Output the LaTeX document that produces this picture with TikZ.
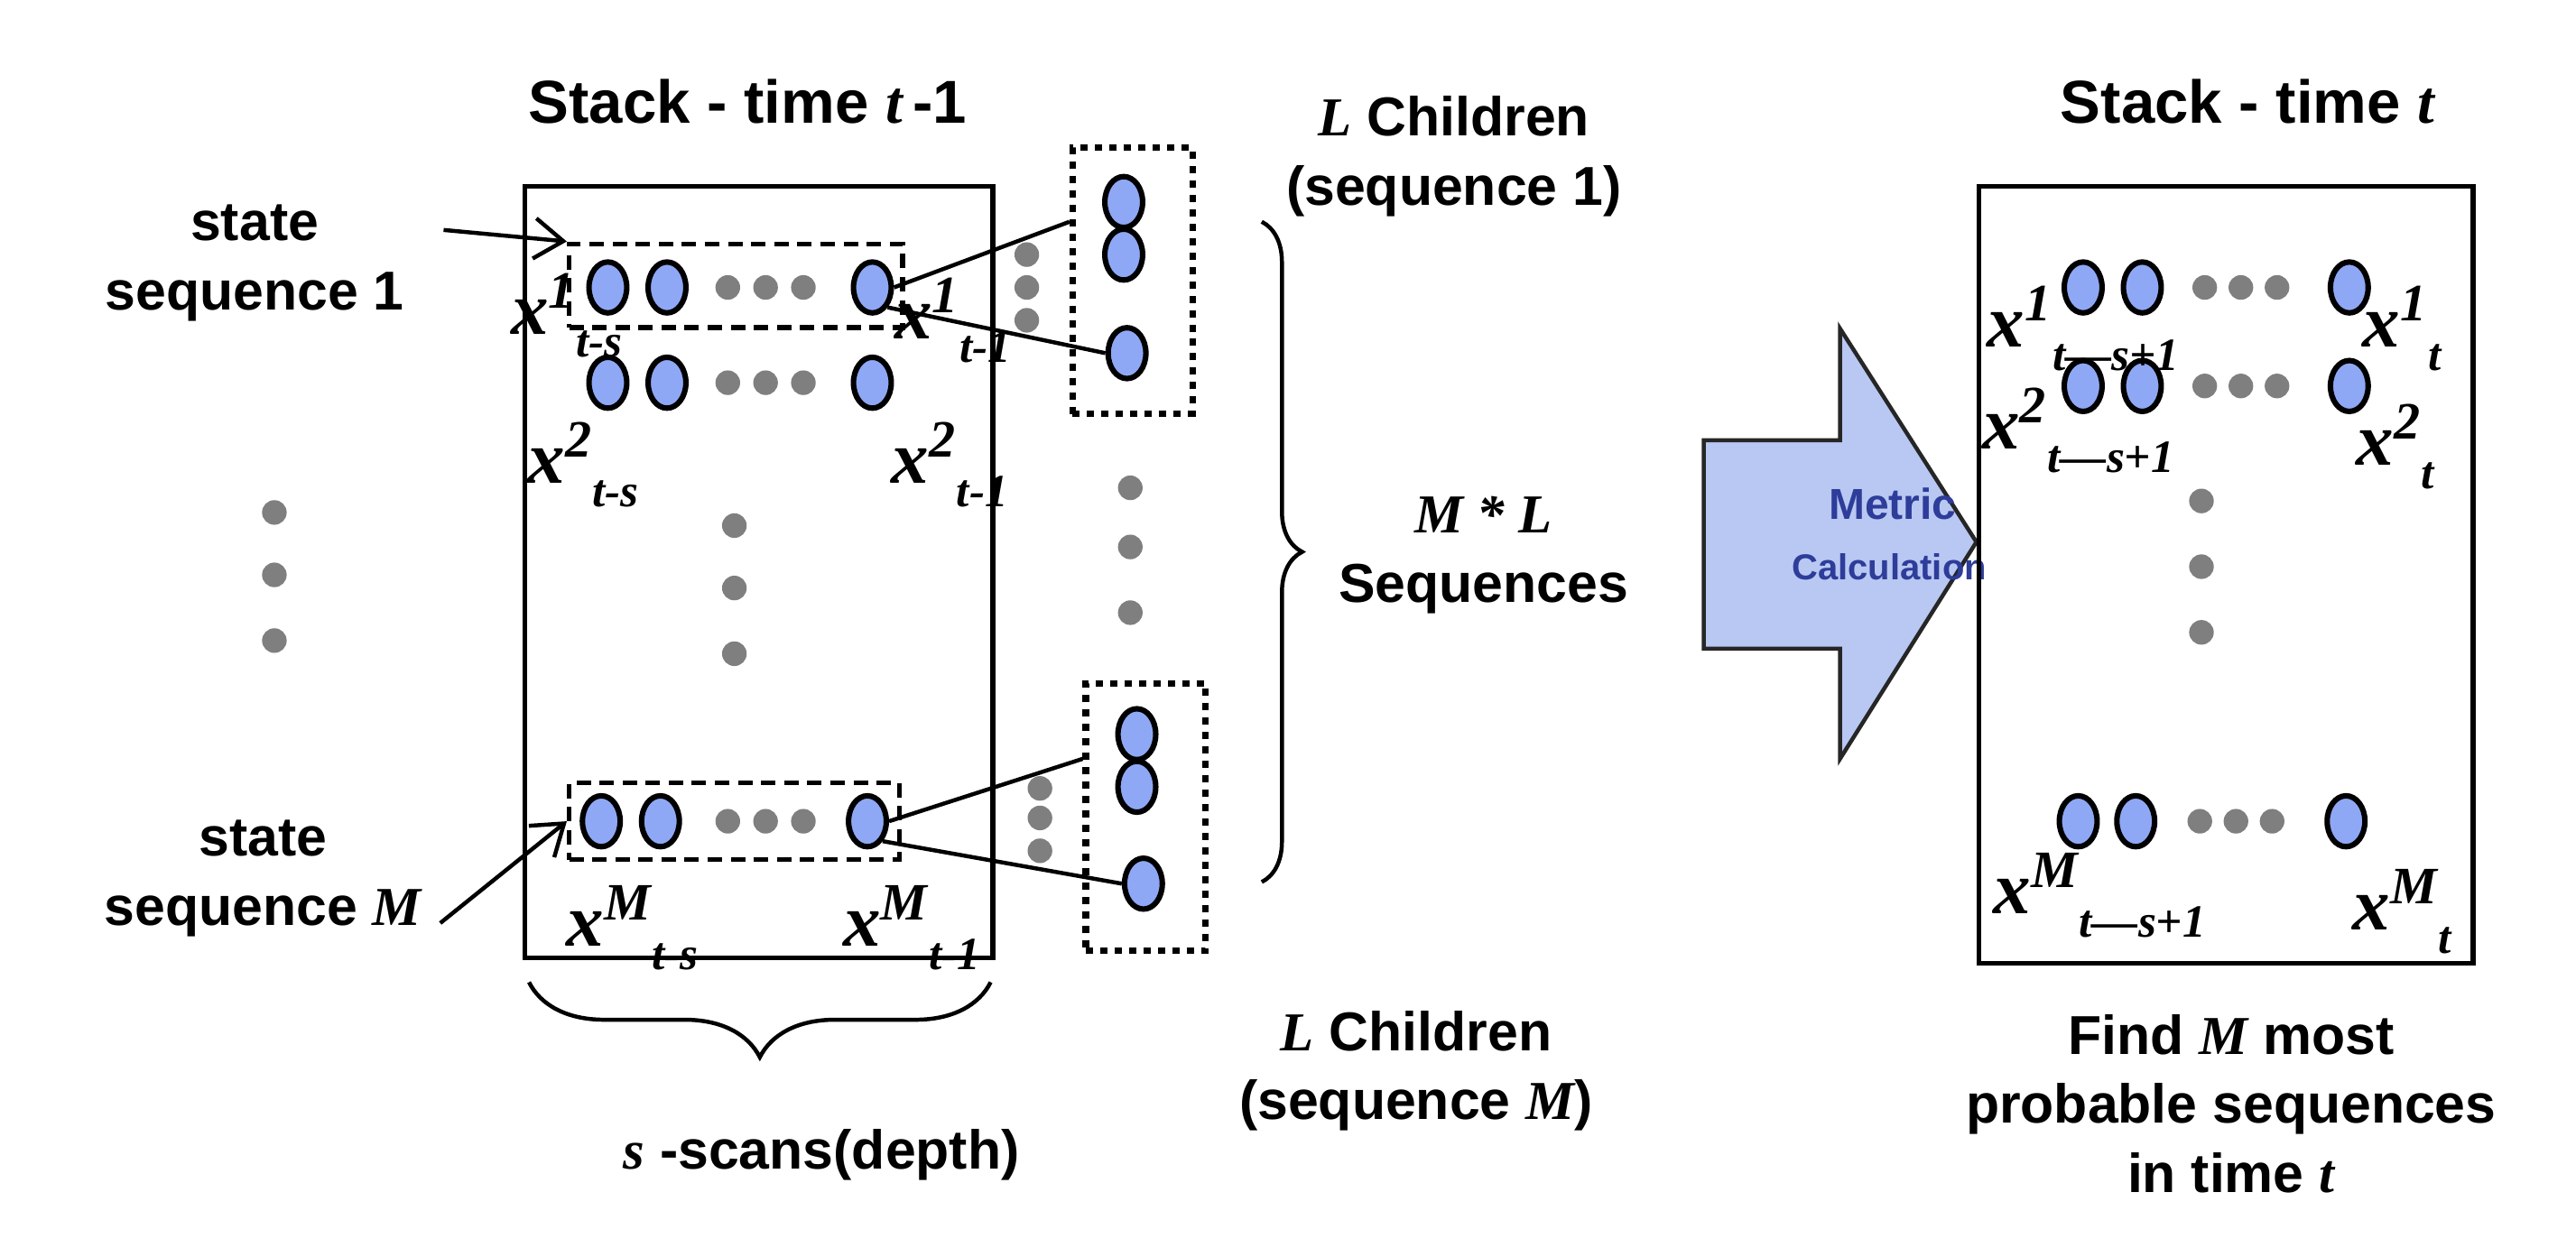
\documentclass[tikz,border=0pt]{standalone}
\usepackage{fontspec}
\setmainfont{Liberation Sans}
\newfontfamily\serifit{Liberation Serif}
\usetikzlibrary{shapes.geometric,decorations.pathreplacing,arrows.meta}
\definecolor{ov}{HTML}{8FA8F5}
\definecolor{dg}{HTML}{7F7F7F}
\definecolor{arrowfill}{HTML}{B8C8F2}
\definecolor{mblue}{HTML}{2E3C9A}
\begin{document}
\begin{tikzpicture}[x=0.02cm,y=-0.02cm,
  ov/.style={ellipse,draw,line width=1.9pt,fill=ov,inner sep=0,minimum width=0.46cm,minimum height=0.62cm},
  gd/.style={circle,fill=dg,inner sep=0,minimum size=0.3cm},
  ttl/.style={font=\fontsize{21}{25}\selectfont\bfseries},
  lbl/.style={font=\fontsize{19}{24}\selectfont\bfseries,align=center},
  xl/.style={font=\serifit\bfseries\itshape\fontsize{26}{28}\selectfont,inner sep=0},
  box/.style={draw,line width=1.6pt},
  dbox/.style={draw,line width=1.6pt,dash pattern=on 5pt off 3pt},
  obox/.style={draw,line width=2.2pt,dash pattern=on 2.5pt off 2.5pt},
  ln/.style={line width=1.4pt}]
\useasboundingbox (0,0) rectangle (1568,765);
% titles
\node[ttl] (t1) at (455,62) {Stack - time \serifit\itshape t\,\normalfont\bfseries-1};
\node[ttl] (t2) at (1368,62) {Stack - time \serifit\itshape t};
% left box
\node[box,minimum width=5.7cm,minimum height=9.4cm,anchor=north west,inner sep=0] (LB) at (318,112) {};
\node[dbox,minimum width=4.06cm,minimum height=1.02cm,anchor=north west,inner sep=0] (D1) at (345,147) {};
\node[dbox,minimum width=4.02cm,minimum height=0.94cm,anchor=north west,inner sep=0] (DM) at (345,475) {};
% rows
\foreach \r/\y/\a/\b/\c in {1/175/370/406/531, 2/233/370/406/531, M/500/366/402/528}{
  \node[ov] (a\r) at (\a,\y) {};
  \node[ov] (b\r) at (\b,\y) {};
  \node[ov] (c\r) at (\c,\y) {};
  \foreach \d/\dx in {1/443,2/466,3/489}{\node[gd] (g\r\d) at (\dx,\y) {};}
}
\node[xl] (l1a) at (345,192) {x\textsuperscript{1}\raisebox{-8pt}{\fontsize{16}{16}\selectfont t-s}};
\node[xl] (l1b) at (580,195) {x\textsuperscript{1}\raisebox{-8pt}{\fontsize{16}{16}\selectfont t-1}};
\node[xl] (l2a) at (355,283) {x\textsuperscript{2}\raisebox{-8pt}{\fontsize{16}{16}\selectfont t-s}};
\node[xl] (l2b) at (578,283) {x\textsuperscript{2}\raisebox{-8pt}{\fontsize{16}{16}\selectfont t-1}};
\node[xl] (lMa) at (385,565) {x\textsuperscript{M}\raisebox{-8pt}{\fontsize{16}{16}\selectfont t-s}};
\node[xl] (lMb) at (555,565) {x\textsuperscript{M}\raisebox{-8pt}{\fontsize{16}{16}\selectfont t-1}};
% vertical dots
\foreach \i/\y in {1/320,2/358,3/398}{\node[gd] (vm\i) at (447,\y) {};}
\foreach \i/\y in {1/312,2/350,3/390}{\node[gd] (vl\i) at (167,\y) {};}
\foreach \i/\y in {1/297,2/333,3/373}{\node[gd] (vc\i) at (688,\y) {};}
\foreach \i/\y in {1/155,2/175,3/195}{\node[gd] (s1\i) at (625,\y) {};}
\foreach \i/\y in {1/480,2/498,3/518}{\node[gd] (sM\i) at (633,\y) {};}
% state labels
\node[lbl] (st1) at (155,160) {state\\sequence 1};
\node[lbl] (stM) at (160,535) {state\\sequence {\serifit\itshape M}};
\coordinate (st1e) at (270,140);
\coordinate (stMe) at (268,562);
\draw[ln,-{Straight Barb[length=10pt,width=14pt]}] (st1e) -- (D1.north west);
\draw[ln,-{Straight Barb[length=10pt,width=14pt]}] (stMe) -- ([yshift=-0.5cm]DM.north west);
% children boxes
\node[obox,minimum width=1.46cm,minimum height=3.24cm,anchor=north west,inner sep=0] (C1) at (651,88) {};
\node[obox,minimum width=1.46cm,minimum height=3.26cm,anchor=north west,inner sep=0] (CM) at (659,414) {};
\node[ov] (c1a) at (684,123) {};
\node[ov] (c1b) at (684,155) {};
\node[ov] (c1c) at (686,215) {};
\node[ov] (cMa) at (692,447) {};
\node[ov] (cMb) at (692,479) {};
\node[ov] (cMc) at (696,538) {};
\coordinate (C1in) at (651,135);
\coordinate (CMin) at (659,462);
\draw[ln] (c1.east) -- (C1in);
\draw[ln] (c1.south east) -- (c1c.west);
\draw[ln] (cM.east) -- (CMin);
\draw[ln] (cM.south east) -- (cMc.west);
% braces
\coordinate (br1) at (768,135);
\coordinate (br2) at (768,537);
\draw[ln,decorate,decoration={brace,amplitude=14pt}] (br1) -- (br2);
\coordinate (bb1) at (322,598);
\coordinate (bb2) at (603,598);
\draw[ln,decorate,decoration={brace,mirror,amplitude=26pt}] (bb1) -- (bb2);
\node[lbl] (lc1) at (885,95) {{\serifit\itshape L} Children\\(sequence 1)};
\node[lbl] (ml) at (903,338) {{\serifit\itshape M * L}\\Sequences};
\node[lbl] (lcM) at (862,652) {{\serifit\itshape L} Children\\(sequence {\serifit\itshape M})};
\node[lbl] (ss) at (500,703) {{\serifit\itshape s} -scans(depth)};
% big arrow
\draw[line width=1.4pt,fill=arrowfill,draw=black!85] (1037,268) -- (1120,268) -- (1120,200) -- (1203,330) -- (1120,462) -- (1120,395) -- (1037,395) -- cycle;
\node[font=\fontsize{15}{17}\selectfont\bfseries,text=mblue] (met) at (1152,307) {Metric};
\node[font=\fontsize{12.5}{14}\selectfont\bfseries,text=mblue] (calc) at (1150,345) {Calculation};
% right box
\node[box,minimum width=6.02cm,minimum height=9.46cm,anchor=north west,inner sep=0] (RB) at (1203,112) {};
\foreach \r/\y/\a/\b/\c/\o in {1/175/1268/1304/1430/0, 2/235/1268/1304/1430/0, M/500/1265/1300/1428/-3}{
  \node[ov] (ra\r) at (\a,\y) {};
  \node[ov] (rb\r) at (\b,\y) {};
  \node[ov] (rc\r) at (\c,\y) {};
  \foreach \d/\dx in {1/1342,2/1364,3/1386}{\node[gd] (rg\r\d) at ({\dx+\o},\y) {};}
}
\node[xl] (r1a) at (1268,200) {x\textsuperscript{1}\raisebox{-8pt}{\fontsize{16}{16}\selectfont t—s+1}};
\node[xl] (r1b) at (1462,200) {x\textsuperscript{1}\raisebox{-8pt}{\fontsize{16}{16}\selectfont t}};
\node[xl] (r2a) at (1265,262) {x\textsuperscript{2}\raisebox{-8pt}{\fontsize{16}{16}\selectfont t—s+1}};
\node[xl] (r2b) at (1458,272) {x\textsuperscript{2}\raisebox{-8pt}{\fontsize{16}{16}\selectfont t}};
\node[xl] (rMa) at (1278,545) {x\textsuperscript{M}\raisebox{-8pt}{\fontsize{16}{16}\selectfont t—s+1}};
\node[xl] (rMb) at (1462,555) {x\textsuperscript{M}\raisebox{-8pt}{\fontsize{16}{16}\selectfont t}};
\foreach \i/\y in {1/305,2/345,3/385}{\node[gd] (rv\i) at (1340,\y) {};}
\node[lbl] (find) at (1358,672) {Find {\serifit\itshape M} most\\probable sequences\\in time {\serifit\itshape t}};
\end{tikzpicture}
\end{document}
